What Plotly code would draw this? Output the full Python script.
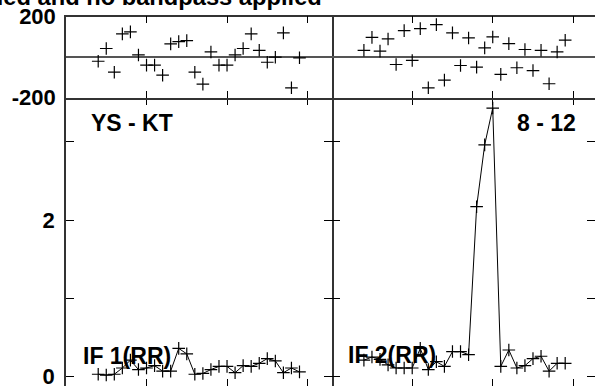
import plotly.graph_objects as go

# ---------------- data ----------------
channels = [4, 5, 6, 7, 8, 9, 10, 11, 12, 13, 14, 15, 16, 17, 18, 19, 20, 21, 22, 23, 24, 25, 26, 27, 28, 29]

phase_if1 = [-20, 43, -74, 115, 125, 11, -39, -39, -89, 66, 77, 82, -74, -133, 26,
             -39, -39, 11, 43, 115, 34, -25, 0, 120, -151, -3]
amp_if1 = [0.03, 0.02, 0.03, 0.11, 0.21, 0.09, 0.11, 0.14, 0.07, 0.07, 0.36, 0.29, 0.03,
           0.04, 0.09, 0.13, 0.13, 0.05, 0.14, 0.13, 0.17, 0.23, 0.20, 0.05, 0.11, 0.06]

phase_if2 = [34, 98, 30, 90, -36, 131, -16, 141, -151, 161, -113, 120, -41, 95, -49,
             46, 100, -85, 67, -52, 38, -66, 34, -131, 26, 84]
amp_if2 = [0.21, 0.25, 0.22, 0.15, 0.11, 0.11, 0.11, 0.36, 0.09, 0.19, 0.13, 0.32, 0.32,
           0.28, 2.17, 2.96, 3.43, 0.13, 0.34, 0.11, 0.14, 0.23, 0.26, 0.07, 0.17, 0.17]

phase_tickvals = [-200, 200]
phase_ticktext = ["-200", "200"]
amp_tickvals = [0, 1, 2, 3]
amp_ticktext = ["0", "", "2", ""]
chan_tickvals = [10, 20, 30]

title_text = "applied and no bandpass applied"
baseline_label = ["YS - KT", "8 - 12"]
if_labels = ["IF 1(RR)", "IF 2(RR)"]

# ---------------- layout helpers ----------------
W, H = 595, 386


def px(x):
    return x / W


def py(y):
    return (H - y) / H


FONT = "Liberation Sans, Arial, sans-serif"
LINE = "#333333"

x_left = [px(66), px(331.7)]
x_right = [px(331.7), 1.0]
y_phase = [py(97.7), py(16.7)]
y_amp = [0.0, py(97.7)]

left_range = [0, 33]
right_range = [0, 33 * (595 - 331.7) / (331.7 - 66)]
amp_range = [(376.6 - 386) / 78.3, (376.6 - 97.7) / 78.3]

marker = dict(symbol="cross-thin", size=9, color="black", line=dict(color="black", width=1.2))

fig = go.Figure()
fig.add_trace(go.Scatter(x=channels, y=amp_if1, mode="lines+markers", marker=marker,
                         line=dict(color="black", width=1), xaxis="x", yaxis="y"))
fig.add_trace(go.Scatter(x=channels, y=amp_if2, mode="lines+markers", marker=marker,
                         line=dict(color="black", width=1), xaxis="x2", yaxis="y2"))
fig.add_trace(go.Scatter(x=channels, y=phase_if1, mode="markers", marker=marker,
                         xaxis="x3", yaxis="y3"))
fig.add_trace(go.Scatter(x=channels, y=phase_if2, mode="markers", marker=marker,
                         xaxis="x4", yaxis="y4"))

tickfont = dict(family=FONT, size=22, color="black", weight="bold")

common_x = dict(showgrid=False, zeroline=False, showticklabels=False, ticks="inside",
                ticklen=7, tickwidth=1, tickcolor="black", tickvals=chan_tickvals,
                automargin=False, fixedrange=True)

fig.update_layout(
    template="none",
    width=W, height=H,
    margin=dict(l=0, r=0, t=0, b=0),
    paper_bgcolor="white", plot_bgcolor="white",
    showlegend=False,
    xaxis=dict(common_x, domain=x_left, range=left_range, anchor="y",
               showline=False, mirror="allticks"),
    xaxis2=dict(common_x, domain=x_right, range=right_range, anchor="y2",
                showline=False, mirror="allticks"),
    xaxis3=dict(common_x, domain=x_left, range=left_range, anchor="y3",
                showline=True, linecolor=LINE, linewidth=1.5, mirror="allticks"),
    xaxis4=dict(common_x, domain=x_right, range=right_range, anchor="y4",
                showline=True, linecolor=LINE, linewidth=1.5, mirror="allticks"),
    yaxis=dict(domain=y_amp, range=amp_range, anchor="x", showgrid=False, zeroline=False,
               tickvals=amp_tickvals, ticktext=amp_ticktext, tickfont=tickfont,
               ticks="inside", ticklen=8, tickwidth=1, tickcolor="black",
               showline=True, linecolor=LINE, linewidth=1.5, mirror="allticks",
               ticklabelstandoff=5, ticklabeloverflow="allow",
               automargin=False, fixedrange=True),
    yaxis2=dict(domain=y_amp, range=amp_range, anchor="x2", showgrid=False, zeroline=False,
                tickvals=amp_tickvals, showticklabels=False,
                ticks="inside", ticklen=8, tickwidth=1, tickcolor="black",
                showline=False, mirror="allticks", automargin=False, fixedrange=True),
    yaxis3=dict(domain=y_phase, range=[-200, 200], anchor="x3", showgrid=False,
                zeroline=True, zerolinecolor="#555555", zerolinewidth=1.5,
                tickvals=phase_tickvals, ticktext=phase_ticktext, tickfont=tickfont,
                ticks="", showline=True, linecolor=LINE, linewidth=1.5, mirror=True,
                ticklabelstandoff=4, ticklabeloverflow="allow",
                automargin=False, fixedrange=True),
    yaxis4=dict(domain=y_phase, range=[-200, 200], anchor="x4", showgrid=False,
                zeroline=True, zerolinecolor="#555555", zerolinewidth=1.5,
                showticklabels=False, ticks="", showline=False,
                automargin=False, fixedrange=True),
)

lab_font = dict(family=FONT, size=23, color="black", weight="bold")
annotations = [
    dict(text=title_text, x=px(323), y=py(-3), xanchor="right", yanchor="middle",
         font=dict(family=FONT, size=23.7, color="black", weight="bold")),
    dict(text=baseline_label[0], x=px(90), y=py(123.3), xanchor="left", yanchor="middle", font=lab_font),
    dict(text=baseline_label[1], x=px(576.7), y=py(123.3), xanchor="right", yanchor="middle", font=lab_font),
    dict(text=if_labels[0], x=px(81.7), y=py(356), xanchor="left", yanchor="middle", font=lab_font),
    dict(text=if_labels[1], x=px(346.7), y=py(355), xanchor="left", yanchor="middle", font=lab_font),
]
for a in annotations:
    a.update(xref="paper", yref="paper", showarrow=False, borderpad=0)
fig.update_layout(annotations=annotations)

fig.write_html("out.html", config={"displayModeBar": False},
               post_script="document.body.style.margin='0px';document.body.style.overflow='hidden';")
